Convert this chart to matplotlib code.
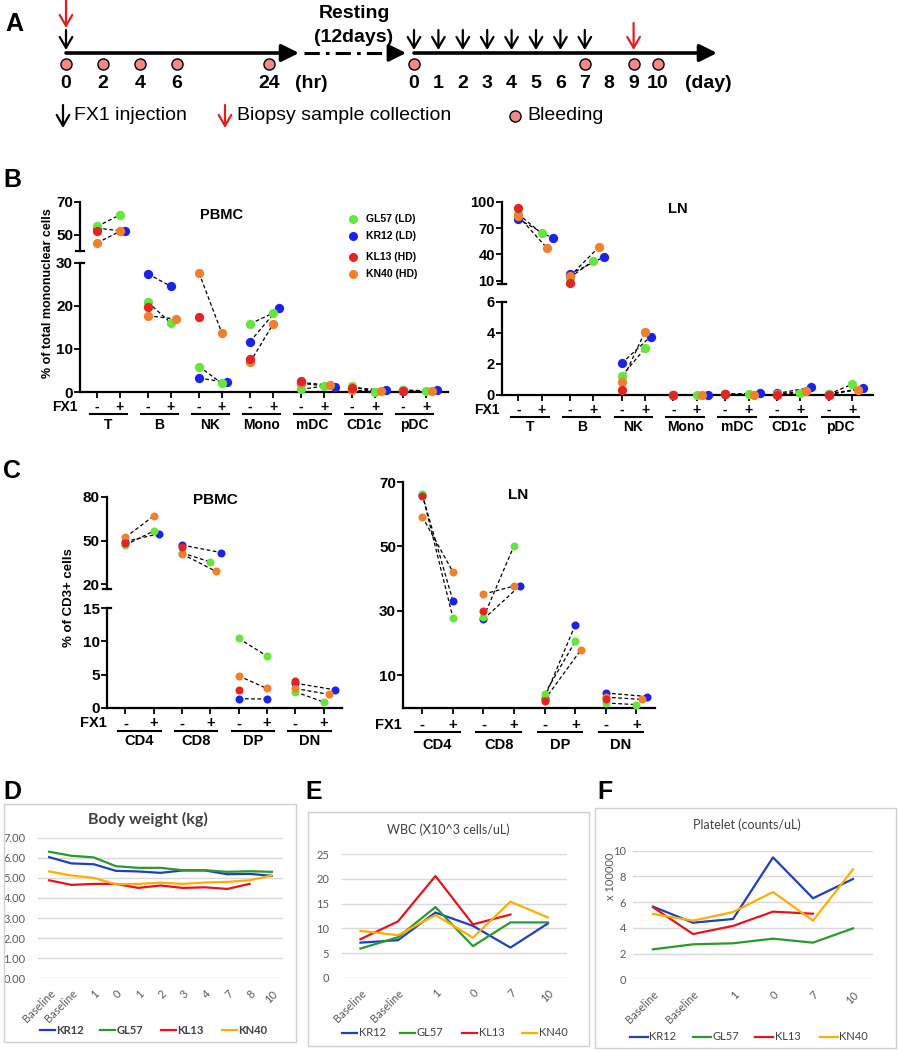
import numpy as np
import matplotlib.pyplot as plt
from matplotlib import transforms
from matplotlib.lines import Line2D
from matplotlib.patches import Rectangle
from matplotlib.ticker import FormatStrFormatter

plt.rcParams['font.family'] = ['Liberation Sans', 'DejaVu Sans']

nan = np.nan

# ---------------- data ----------------
# A: study timeline
hr_points = [0, 2, 4, 6, 24]
hr_bleed = [0, 2, 4, 6, 24]
hr_inject = [0]
hr_biopsy = [0]
day_points = [0, 1, 2, 3, 4, 5, 6, 7, 8, 9, 10]
day_inject = [0, 1, 2, 3, 4, 5, 6, 7]
day_biopsy = [9]
day_bleed = [0, 7, 9, 10]

# B / C: paired pre (-) and post (+) FX1 values per animal
animals = ['GL57', 'KR12', 'KL13', 'KN40']
animal_labels = ['GL57 (LD)', 'KR12 (LD)', 'KL13 (HD)', 'KN40 (HD)']
subsets_b = ['T', 'B', 'NK', 'Mono', 'mDC', 'CD1c', 'pDC']
subsets_c = ['CD4', 'CD8', 'DP', 'DN']

b_pbmc_pre = {
    'GL57': [55.0, 20.8, 5.9, 15.8, 0.6, 1.3, 0.5],
    'KR12': [54.0, 27.4, 3.2, 11.7, 2.0, 1.0, 0.4],
    'KL13': [52.0, 19.7, 17.4, 7.7, 2.6, 0.9, 0.3],
    'KN40': [45.0, 17.7, 27.6, 6.9, 2.2, 0.4, 0.2],
}
b_pbmc_post = {
    'GL57': [62.0, 16.0, 2.0, 18.3, 1.4, 0.1, 0.2],
    'KR12': [52.0, 24.5, 2.25, 19.5, 1.2, 0.4, 0.4],
    'KL13': [nan] * 7,
    'KN40': [52.0, 16.9, 13.6, 15.7, 1.6, 0.2, 0.2],
}
b_ln_pre = {
    'GL57': [86.0, 13.8, 1.22, 0.03, 0.05, 0.05, 0.05],
    'KR12': [80.3, 17.6, 2.04, 0.03, 0.05, 0.10, 0.08],
    'KL13': [92.4, 7.8, 0.34, 0.03, 0.05, 0.0, 0.0],
    'KN40': [83.7, 15.3, 0.86, 0.02, 0.04, 0.05, 0.02],
}
b_ln_post = {
    'GL57': [64.0, 32.9, 3.0, 0.02, 0.07, 0.10, 0.69],
    'KR12': [58.3, 37.4, 3.75, 0.0, 0.10, 0.49, 0.43],
    'KL13': [nan] * 7,
    'KN40': [47.2, 48.4, 4.07, 0.0, 0.02, 0.26, 0.34],
}
c_pbmc_pre = {
    'GL57': [46.9, 41.5, 10.45, 2.4],
    'KR12': [49.2, 46.9, 1.36, 3.7],
    'KL13': [48.0, 45.8, 2.7, 4.1],
    'KN40': [52.2, 40.8, 4.8, 2.9],
}
c_pbmc_post = {
    'GL57': [56.5, 35.3, 7.8, 0.85],
    'KR12': [54.7, 41.7, 1.3, 2.7],
    'KL13': [nan] * 4,
    'KN40': [66.8, 28.9, 2.9, 2.0],
}
c_ln_pre = {
    'GL57': [66.2, 28.0, 4.2, 1.4],
    'KR12': [66.0, 27.4, 3.0, 4.5],
    'KL13': [65.6, 30.0, 2.0, 2.5],
    'KN40': [59.2, 35.2, 2.4, 3.2],
}
c_ln_post = {
    'GL57': [27.9, 50.2, 20.5, 0.9],
    'KR12': [33.1, 37.7, 25.6, 3.4],
    'KL13': [nan] * 4,
    'KN40': [42.1, 37.7, 17.8, 2.5],
}

# D / E / F: clinical monitoring
monkeys = ['KR12', 'GL57', 'KL13', 'KN40']
days_d = ['Baseline', 'Baseline', '1', '0', '1', '2', '3', '4', '7', '8', '10']
body_weight = {
    'KR12': [6.03, 5.72, 5.68, 5.35, 5.32, 5.25, 5.37, 5.37, 5.18, 5.20, 5.10],
    'GL57': [6.30, 6.10, 6.02, 5.58, 5.50, 5.50, 5.38, 5.38, 5.30, 5.33, 5.30],
    'KL13': [4.88, 4.65, 4.70, 4.70, 4.50, 4.62, 4.50, 4.53, 4.45, 4.70, nan],
    'KN40': [5.32, 5.12, 5.00, 4.68, 4.70, 4.76, 4.70, 4.77, 4.80, 4.88, 5.12],
}
days_ef = ['Baseline', 'Baseline', '1', '0', '7', '10']
wbc = {
    'KR12': [7.1, 7.6, 13.2, 10.5, 6.1, 11.0],
    'GL57': [5.9, 8.2, 14.3, 6.4, 11.2, 11.2],
    'KL13': [7.8, 11.4, 20.6, 10.8, 12.8, nan],
    'KN40': [9.5, 8.6, 12.7, 8.1, 15.4, 12.2],
}
platelet = {
    'KR12': [5.65, 4.40, 4.69, 9.48, 6.30, 7.80],
    'GL57': [2.33, 2.72, 2.80, 3.16, 2.85, 3.96],
    'KL13': [5.60, 3.52, 4.15, 5.26, 5.10, nan],
    'KN40': [5.08, 4.56, 5.23, 6.79, 4.56, 8.55],
}

# ---------------- styles ----------------
dot_colors = {'GL57': '#66e63c', 'KR12': '#1a22f0', 'KL13': '#e42323', 'KN40': '#f07f2e'}
line_colors = {'KR12': '#1f3fbf', 'GL57': '#2a9a2a', 'KL13': '#e8141c', 'KN40': '#ffae00'}
draw_order = ['KR12', 'GL57', 'KN40', 'KL13']
dodge_rank = {'GL57': 0, 'KN40': 1, 'KR12': 2, 'KL13': 3}
bleed_color = '#f08a8a'
lato = ['Lato', 'DejaVu Sans']

W, H = 898, 1050
fig = plt.figure(figsize=(W / 100, H / 100), dpi=100)


def fx(x):
    return x / W


def fy(y):
    return 1 - y / H


def px_axes(x0, y0, x1, y1):
    return fig.add_axes([fx(x0), fy(y1), (x1 - x0) / W, (y1 - y0) / H])


# panel letters
for letter, (lx, ly) in {'A': (14, 24), 'B': (12, 180), 'C': (12, 471),
                         'D': (12, 792), 'E': (314, 792), 'F': (605, 792)}.items():
    fig.text(fx(lx), fy(ly), letter, fontsize=18, fontweight='bold', ha='center', va='center')

# ---------------- A: timeline ----------------
ax_a = px_axes(0, 0, W, 140)
ax_a.set_xlim(0, W)
ax_a.set_ylim(140, 0)
ax_a.axis('off')


def hr_x(h):
    # broken scale: 0-6 hr stretched, 6-24 hr compressed
    return 66 + 18.5 * min(h, 6) + 5.1 * max(h - 6, 0)


def day_x(d):
    return 414 + 24.4 * d


def down_arrow(ax, x, y0, y1, color):
    ax.annotate('', xy=(x, y1), xytext=(x, y0),
                arrowprops=dict(arrowstyle='->,head_length=0.6,head_width=0.35', color=color,
                                lw=1.6, shrinkA=0, shrinkB=0, mutation_scale=13))


def main_arrow(ax, x0, x1, y, lw):
    ax.annotate('', xy=(x1, y), xytext=(x0, y),
                arrowprops=dict(arrowstyle='-|>,head_length=0.8,head_width=0.4', color='k',
                                lw=lw, shrinkA=0, shrinkB=0, mutation_scale=13))


line_y = 53
main_arrow(ax_a, hr_x(0), 299, line_y, 2.6)
ax_a.plot([304, 398], [line_y, line_y], color='k', lw=2.2, linestyle=(0, (5, 2, 1.2, 2)))
main_arrow(ax_a, 396, 406, line_y, 2.2)
main_arrow(ax_a, day_x(0), 717, line_y, 2.6)

for h in hr_inject:
    down_arrow(ax_a, hr_x(h), 30, 50, 'k')
for h in hr_biopsy:
    down_arrow(ax_a, hr_x(h), 0, 28, '#e02020')
for d in day_inject:
    down_arrow(ax_a, day_x(d), 30, 50, 'k')
for d in day_biopsy:
    down_arrow(ax_a, day_x(d), 23, 50, '#e02020')

ax_a.plot([hr_x(h) for h in hr_bleed], [64] * len(hr_bleed), 'o', ms=8,
          mfc=bleed_color, mec='k', mew=1)
ax_a.plot([day_x(d) for d in day_bleed], [64] * len(day_bleed), 'o', ms=8,
          mfc=bleed_color, mec='k', mew=1)

num_kw = dict(fontsize=14, fontweight='bold', ha='center', va='center')
for h in hr_points:
    ax_a.text(hr_x(h), 83, str(h), **num_kw)
ax_a.text(311, 83, '(hr)', **num_kw)
for d in day_points:
    ax_a.text(day_x(d), 83, str(d), **num_kw)
ax_a.text(708, 83, '(day)', **num_kw)
ax_a.text(354, 13, 'Resting', **num_kw)
ax_a.text(354, 37, '(12days)', **num_kw)

down_arrow(ax_a, 63, 105, 128, 'k')
ax_a.text(74, 116, 'FX1 injection', fontsize=14, va='center')
down_arrow(ax_a, 225, 105, 128, '#e02020')
ax_a.text(237, 116, 'Biopsy sample collection', fontsize=14, va='center')
ax_a.plot([515], [116], 'o', ms=8, mfc=bleed_color, mec='k', mew=1)
ax_a.text(527, 116, 'Bleeding', fontsize=14, va='center')


# ---------------- B / C: paired scatter panels ----------------
def style_axis(ax, xlim, ylim, yticks, has_bottom, tick_fs):
    ax.set_xlim(*xlim)
    ax.set_ylim(*ylim)
    ax.set_facecolor('none')
    ax.set_yticks(yticks, [str(t) for t in yticks], fontweight='bold')
    for s in ['top', 'right']:
        ax.spines[s].set_visible(False)
    ax.spines['left'].set_linewidth(1.6)
    ax.spines['bottom'].set_linewidth(1.6)
    ax.spines['bottom'].set_visible(has_bottom)
    ax.tick_params(axis='y', direction='out', length=4, width=1.3, labelsize=tick_fs, pad=1)
    if not has_bottom:
        ax.tick_params(axis='x', bottom=False, labelbottom=False)


def break_marks(ax_hi, ax_lo, width_px):
    # small horizontal ticks at the ends of the broken axis
    w_hi = width_px / (ax_hi.get_position().width * W)
    w_lo = width_px / (ax_lo.get_position().width * W)
    ax_hi.plot([-w_hi, w_hi], [0, 0], transform=ax_hi.transAxes, color='k', lw=1.6, clip_on=False)
    ax_lo.plot([0, w_lo], [1, 1], transform=ax_lo.transAxes, color='k', lw=1.6, clip_on=False)


def plus_offsets(ax, gi, vals, step_px, thr_px):
    ydisp = {n: ax.transData.transform((gi, v))[1] for n, v in vals.items()}
    unit = ax.transData.transform((1, 0))[0] - ax.transData.transform((0, 0))[0]
    clusters = []
    for n in sorted(vals, key=lambda k: ydisp[k]):
        if clusters and ydisp[n] - ydisp[clusters[-1][-1]] < thr_px:
            clusters[-1].append(n)
        else:
            clusters.append([n])
    off = {}
    for c in clusters:
        for k, n in enumerate(sorted(c, key=dodge_rank.get)):
            off[n] = (k * step_px / unit) if len(c) > 1 else 0.0
    return off


def paired_panel(ax_hi, ax_lo, subsets, pre, post, n_hi, gap, ms):
    for gi in range(len(subsets)):
        ax = ax_hi if (ax_hi is not None and gi < n_hi) else ax_lo
        vals = {n: post[n][gi] for n in animals if not np.isnan(post[n][gi])}
        off = plus_offsets(ax, gi, vals, 5.5, 10)
        for n in draw_order:
            y0 = pre[n][gi]
            y1 = post[n][gi]
            if not np.isnan(y1):
                ax.plot([gi, gi + gap + off[n]], [y0, y1], color='k', lw=0.9,
                        dashes=(3, 2), clip_on=False, zorder=2)
        for n in draw_order:
            ax.plot([gi], [pre[n][gi]], 'o', color=dot_colors[n], ms=ms, mec='none',
                    clip_on=False, zorder=3)
            if not np.isnan(post[n][gi]):
                ax.plot([gi + gap + off[n]], [post[n][gi]], 'o', color=dot_colors[n], ms=ms,
                        mec='none', clip_on=False, zorder=3)
    xs = []
    for gi in range(len(subsets)):
        xs += [gi, gi + gap]
    ax_lo.set_xticks(xs, [''] * len(xs))
    ax_lo.tick_params(axis='x', direction='out', length=4, width=1.3)


def fx1_row(ax, subsets, gap, fx1_x, y_sign, y_line, y_cat, fs):
    trans = transforms.blended_transform_factory(ax.transData, fig.transFigure)
    unit = ax.transData.transform((1, 0))[0] - ax.transData.transform((0, 0))[0]
    m = 7 / unit
    kw = dict(transform=trans, ha='center', va='center', fontsize=fs, fontweight='bold')
    for gi, name in enumerate(subsets):
        ax.text(gi, fy(y_sign), '-', **kw)
        ax.text(gi + gap, fy(y_sign), '+', **kw)
        ax.plot([gi - m, gi + gap + m], [fy(y_line), fy(y_line)], transform=trans,
                color='k', lw=1.5, clip_on=False)
        ax.text(gi + gap / 2, fy(y_cat), name, **kw)
    fig.text(fx(fx1_x), fy(y_sign), 'FX1', ha='center', va='center', fontsize=fs,
             fontweight='bold')


# B left: PBMC
gap_b = 0.45
ax1h = px_axes(80, 201.7, 448, 251.2)
ax1l = px_axes(80, 262.7, 448, 392)
style_axis(ax1h, (-0.333, 6.88), (40, 70), [50, 70], False, 11)
style_axis(ax1l, (-0.333, 6.88), (0, 30), [0, 10, 20, 30], True, 11)
break_marks(ax1h, ax1l, 4)
paired_panel(ax1h, ax1l, subsets_b, b_pbmc_pre, b_pbmc_post, 1, gap_b, 6.7)
fx1_row(ax1l, subsets_b, gap_b, 65, 407, 414, 424.5, 10)
fig.text(fx(222), fy(215), 'PBMC', fontsize=10.5, fontweight='bold', ha='center', va='center')
fig.text(fx(48), fy(293), '% of total mononuclear cells', rotation=90, fontsize=9,
         fontweight='bold', ha='center', va='center')
for n, lab, ly in zip(animals, animal_labels, [219, 236, 257, 274]):
    fig.add_artist(Line2D([fx(353)], [fy(ly)], marker='o', color=dot_colors[n], ms=6.5,
                          mec='none', linestyle='none'))
    fig.text(fx(366), fy(ly), lab, fontsize=7.5, fontweight='bold', va='center')

# B right: LN
ax2h = px_axes(501.7, 201.7, 872.7, 283.5)
ax2l = px_axes(501.7, 301.7, 872.7, 395)
style_axis(ax2h, (-0.32, 6.85), (7, 100), [10, 40, 70, 100], False, 10.5)
style_axis(ax2l, (-0.32, 6.85), (0, 6), [0, 2, 4, 6], True, 10.5)
break_marks(ax2h, ax2l, 4)
paired_panel(ax2h, ax2l, subsets_b, b_ln_pre, b_ln_post, 2, gap_b, 6.7)
fx1_row(ax2l, subsets_b, gap_b, 486.7, 410, 417.3, 427, 10)
fig.text(fx(678), fy(209), 'LN', fontsize=10.5, fontweight='bold', ha='center', va='center')

# C left: PBMC
gap_c = 0.5
ax3h = px_axes(106.7, 496.7, 342.3, 588.7)
ax3l = px_axes(106.7, 608.3, 342.3, 707.7)
style_axis(ax3h, (-0.33, 3.83), (17, 80), [20, 50, 80], False, 11)
style_axis(ax3l, (-0.33, 3.83), (0, 15), [0, 5, 10, 15], True, 11)
break_marks(ax3h, ax3l, 4)
paired_panel(ax3h, ax3l, subsets_c, c_pbmc_pre, c_pbmc_post, 2, gap_c, 5.8)
fx1_row(ax3l, subsets_c, gap_c, 93.3, 723.3, 730.7, 741, 10.5)
fig.text(fx(215), fy(500), 'PBMC', fontsize=11, fontweight='bold', ha='center', va='center')
fig.text(fx(69.3), fy(598), '% of CD3+ cells', rotation=90, fontsize=9.5,
         fontweight='bold', ha='center', va='center')

# C right: LN
ax4 = px_axes(403, 482, 654.7, 707.5)
style_axis(ax4, (-0.316, 3.80), (0, 70), [10, 30, 50, 70], True, 11)
paired_panel(None, ax4, subsets_c, c_ln_pre, c_ln_post, 0, gap_c, 5.8)
fx1_row(ax4, subsets_c, gap_c, 388, 725, 732.3, 745, 10.5)
fig.text(fx(518), fy(495), 'LN', fontsize=11, fontweight='bold', ha='center', va='center')


# ---------------- D / E / F: Excel-style line charts ----------------
def excel_chart(box, area, cats, series, ymax, ystep, fmt, tick_fs, tick_pad):
    x0, y0, x1, y1 = box
    fig.add_artist(Rectangle((fx(x0), fy(y1)), (x1 - x0) / W, (y1 - y0) / H,
                             transform=fig.transFigure, fill=False, ec='#d0d0d0', lw=1))
    ax = px_axes(*area)
    xs = np.arange(len(cats))
    for n in monkeys:
        ax.plot(xs, series[n], color=line_colors[n], lw=1.6)
    ax.set_xlim(-0.5, len(cats) - 0.5)
    ax.set_ylim(0, ymax)
    ax.set_yticks(np.arange(0, ymax + ystep / 2, ystep))
    ax.yaxis.set_major_formatter(FormatStrFormatter(fmt))
    ax.grid(axis='y', color='#d9d9d9', lw=1)
    ax.set_axisbelow(True)
    for s in ax.spines.values():
        s.set_visible(False)
    ax.set_xticks(xs, cats, rotation=45, ha='right', va='top', rotation_mode='anchor')
    ax.tick_params(length=0, labelsize=tick_fs, labelcolor='#595959')
    ax.tick_params(axis='y', pad=tick_pad)
    ax.tick_params(axis='x', pad=7)
    for lab in ax.get_xticklabels() + ax.get_yticklabels():
        lab.set_family(lato)
    return ax


def excel_legend(y, xs, length, fs, weight):
    for n, x in zip(monkeys, xs):
        fig.add_artist(Line2D([fx(x), fx(x + length)], [fy(y), fy(y)],
                              color=line_colors[n], lw=1.6))
        fig.text(fx(x + length + 1.5), fy(y), n, fontsize=fs, fontweight=weight,
                 color='#404040', va='center', family=lato)


excel_chart((4, 804, 295.7, 1041.7), (38, 837.7, 283, 978.3), days_d, body_weight,
            7, 1, '%.2f', 8, 9)
fig.text(fx(148), fy(819), 'Body weight (kg)', fontsize=11.5, fontweight='bold',
         color='#404040', ha='center', va='center', family=lato)
excel_legend(1030, [40, 100, 161, 222], 15, 8, 'bold')

excel_chart((308, 812, 589, 1046), (341.7, 854.3, 566.7, 977.7), days_ef, wbc,
            25, 5, '%d', 8, 9)
fig.text(fx(448), fy(830), 'WBC (X10^3 cells/uL)', fontsize=9, color='#404040',
         ha='center', va='center', family=lato)
excel_legend(1033, [342, 400, 462, 522], 15, 8, 'normal')

excel_chart((595, 808, 896, 1048), (633, 850.7, 873, 979.3), days_ef, platelet,
            10, 2, '%d', 8, 5)
fig.text(fx(747), fy(825), 'Platelet (counts/uL)', fontsize=9, color='#404040',
         ha='center', va='center', family=lato)
fig.text(fx(610.7), fy(876.7), 'x 100000', fontsize=8, color='#595959', rotation=90,
         ha='center', va='center', family=lato)
excel_legend(1036.7, [630, 693, 755, 820], 18, 8, 'normal')

fig.savefig('out.png', dpi=100)
